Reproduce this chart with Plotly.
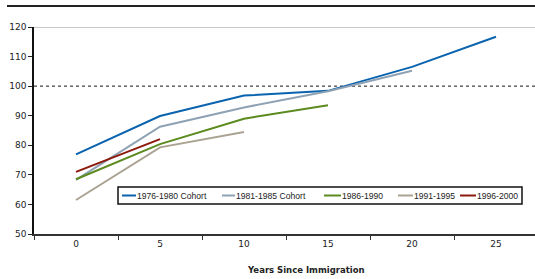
import plotly.graph_objects as go

years = [0, 5, 10, 15, 20, 25]
series_names = ["1976-1980 Cohort", "1981-1985 Cohort", "1986-1990", "1991-1995", "1996-2000"]
cohort_1976_1980 = [76.9, 89.9, 96.8, 98.4, 106.5, 116.7]
cohort_1981_1985 = [68.3, 86.3, 92.8, 98.3, 105.2]
cohort_1986_1990 = [68.5, 80.4, 89.0, 93.5]
cohort_1991_1995 = [61.5, 79.3, 84.5]
cohort_1996_2000 = [71.0, 82.1]
colors = ["#0a63ae", "#8ea2b4", "#5b8a1e", "#aaa392", "#8c1a0c"]
y_ticks = [50, 60, 70, 80, 90, 100, 110, 120]
x_ticks = [0, 5, 10, 15, 20, 25]
x_title = "Years Since Immigration"

all_series = [cohort_1976_1980, cohort_1981_1985, cohort_1986_1990, cohort_1991_1995, cohort_1996_2000]

W, H = 535, 279
L, T, B = 34, 27, 45
PW, PH = W - L, H - T - B
font = "DejaVu Sans"


def px_x(p):
    return (p - L) / PW


def px_y(p):
    return (T + PH - p) / PH


fig = go.Figure()
for name, vals, c in zip(series_names, all_series, colors):
    fig.add_trace(go.Scatter(x=years[:len(vals)], y=vals, name=name, mode="lines",
                             line=dict(color=c, width=2), showlegend=False))

# x range so that 0 sits at px 76 and 25 at px 496
ppu = 420 / 25
x0 = -(76 - L) / ppu
x1 = (W - 76) / ppu

fig.update_layout(
    width=W, height=H,
    margin=dict(l=L, r=0, t=T, b=B, pad=0),
    paper_bgcolor="white", plot_bgcolor="white",
    font=dict(family=font, size=9, color="#222"),
    showlegend=False,
    xaxis=dict(range=[x0, x1], tickvals=x_ticks, ticktext=[str(v) for v in x_ticks],
               ticks="", showgrid=False, zeroline=False, showline=True,
               linecolor="#333", linewidth=1.5,
               minor=dict(ticks="outside", tick0=2.5, dtick=5, ticklen=4, tickcolor="#333", showgrid=False),
               tickfont=dict(size=9, color="#222"), fixedrange=True),
    yaxis=dict(range=[50, 120], tickvals=y_ticks, ticks="outside", ticklen=4, tickcolor="#222",
               showgrid=False, zeroline=False, showline=True, linecolor="#111", linewidth=1.5,
               tickfont=dict(size=9, color="#222"), fixedrange=True),
)

# top gridline at 120
fig.add_shape(type="line", xref="paper", yref="y", x0=0, x1=1, y0=120, y1=120,
              line=dict(color="#c8c8c8", width=2), layer="below")
# reference line at 100
fig.add_shape(type="line", xref="paper", yref="y", x0=0, x1=1, y0=100, y1=100,
              line=dict(color="#111", width=1, dash="dot"), layer="below")
# top page rule
fig.add_shape(type="line", xref="paper", yref="paper", x0=px_x(7), x1=1,
              y0=px_y(6), y1=px_y(6), line=dict(color="#222", width=2))

# axis title
fig.add_annotation(text="<b>" + x_title + "</b>", xref="paper", yref="paper",
                   x=px_x(306), y=px_y(270), showarrow=False,
                   xanchor="center", yanchor="middle", font=dict(size=8.5, color="#222"))

# legend box (manual)
fig.add_shape(type="rect", xref="paper", yref="paper", x0=px_x(118), x1=px_x(522),
              y0=px_y(204), y1=px_y(187), line=dict(color="#111", width=1.5), fillcolor="white")
leg_lines = [(122, 136), (222, 235), (324, 341), (398, 413), (460, 476)]
leg_y = 195.5
for (a, b), name, c in zip(leg_lines, series_names, colors):
    fig.add_shape(type="line", xref="paper", yref="paper", x0=px_x(a), x1=px_x(b),
                  y0=px_y(leg_y), y1=px_y(leg_y), line=dict(color=c, width=2))
    fig.add_annotation(text=name, xref="paper", yref="paper", x=px_x(b), y=px_y(leg_y),
                       showarrow=False, xanchor="left", yanchor="middle",
                       font=dict(size=8.6, color="#222", family="Liberation Sans"), borderpad=0)

fig.write_html("out.html", config={"displayModeBar": False},
               post_script="document.body.style.margin='0';")
